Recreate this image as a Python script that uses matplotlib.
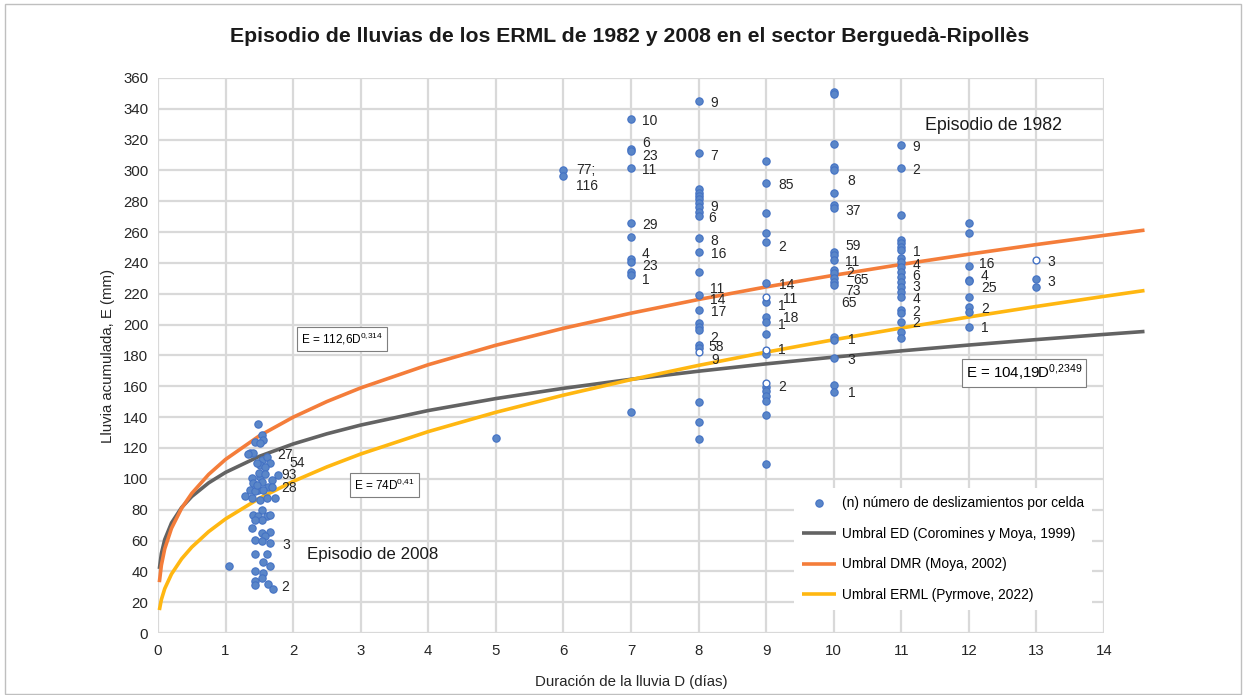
import numpy as np
import matplotlib
matplotlib.use("Agg")
import matplotlib.pyplot as plt
from matplotlib.patches import Rectangle

plt.rcParams["font.family"] = ["Liberation Sans", "DejaVu Sans"]
plt.rcParams["mathtext.default"] = "regular"

# --- data: rainfall duration (days) vs accumulated rain (mm) per cell ---
d_2008 = [1.485, 1.534, 1.436, 1.559, 1.510, 1.362, 1.411, 1.337, 1.534, 1.608,
          1.657, 1.510, 1.584, 1.781, 1.682, 1.510, 1.386, 1.411, 1.534, 1.633,
          1.362, 1.485, 1.559, 1.436, 1.682, 1.288, 1.386, 1.510, 1.608, 1.732,
          1.534, 1.411, 1.485, 1.608, 1.657, 1.534, 1.436, 1.386, 1.534, 1.657,
          1.584, 1.436, 1.534, 1.657, 1.436, 1.608, 1.559, 1.657, 1.436, 1.559,
          1.534, 1.436, 1.633, 1.436, 1.697, 1.055, 1.460, 1.490, 1.590, 1.470]
e_2008 = [135.6, 128.4, 124.1, 125.2, 123.0, 117.0, 116.5, 116.1, 112.2, 114.4,
          110.1, 109.0, 107.9, 102.5, 99.3, 101.4, 100.4, 97.2, 98.2, 95.0,
          92.9, 92.9, 92.9, 91.8, 95.0, 89.0, 87.4, 86.4, 87.4, 87.4,
          79.9, 76.7, 75.6, 75.6, 76.7, 73.5, 73.5, 68.1, 64.8, 65.2,
          62.6, 60.5, 59.4, 58.4, 51.5, 51.5, 45.8, 43.2, 39.9, 38.9,
          35.6, 33.5, 32.0, 31.4, 28.6, 43.7, 110.0, 104.0, 103.0, 96.0]

e_d5 = [126.5]
e_d6 = [300.3, 296.4]
e_d7 = [333.4, 313.7, 312.6, 301.4, 265.7, 257.1, 242.6, 240.8, 234.4, 232.2, 143.4]
e_d8 = [345.3, 311.2, 287.8, 285.6, 283.5, 281.3, 278.7, 276.5, 273.3, 270.5,
        256.0, 246.9, 234.4, 219.2, 209.5, 200.9, 198.7, 196.5, 186.8, 184.7,
        150.0, 137.1, 125.6]
e_d9 = [306.4, 291.7, 272.2, 259.7, 253.9, 226.8, 214.9, 205.2, 201.9, 193.7,
        181.0, 159.4, 157.2, 153.7, 150.7, 141.4, 109.6]
e_d10 = [351.1, 349.6, 317.2, 302.5, 300.3, 285.6, 277.6, 275.5, 247.3, 245.2,
         241.9, 235.5, 233.7, 230.1, 227.9, 225.7, 192.2, 190.1, 178.2, 160.9, 156.5]
e_d11 = [316.5, 301.4, 271.1, 254.9, 252.8, 250.6, 248.4, 243.0, 240.8, 237.6,
         234.4, 231.1, 227.9, 224.6, 221.4, 218.2, 209.5, 207.4, 201.9, 195.4, 191.1]
e_d12 = [266.2, 259.3, 238.3, 229.0, 228.3, 218.2, 211.7, 208.4, 198.7]
e_d13 = [229.4, 224.2]

# cells drawn with open markers
d_open = [8, 9, 9, 9, 13]
e_open = [182.5, 218.2, 183.6, 162.0, 242.0]

# (n) landslide counts per cell: text, duration, rain
lbl_text = ["27", "54", "93", "28", "3", "2",
            "77;", "116",
            "10", "6", "23", "11", "29", "4", "23", "1",
            "9", "7", "9", "6", "8", "16", "11", "14", "17", "2", "58", "9",
            "85", "2", "14", "11", "1", "18", "1", "1", "2",
            "8", "37", "59", "11", "2", "65", "73", "65", "1", "3", "1",
            "9", "2", "1", "4", "6", "3", "4", "2", "2",
            "16", "4", "25", "2", "1",
            "3", "3"]
lbl_d = [1.76, 1.95, 1.82, 1.82, 1.84, 1.82,
         6.19, 6.19,
         7.16, 7.16, 7.16, 7.16, 7.16, 7.16, 7.16, 7.16,
         8.17, 8.17, 8.17, 8.14, 8.17, 8.19, 8.17, 8.17, 8.19, 8.17, 8.14, 8.19,
         9.18, 9.18, 9.19, 9.25, 9.18, 9.25, 9.18, 9.18, 9.18,
         10.21, 10.17, 10.17, 10.17, 10.18, 10.29, 10.17, 10.11, 10.21, 10.21, 10.21,
         11.17, 11.17, 11.17, 11.17, 11.17, 11.17, 11.17, 11.17, 11.17,
         12.15, 12.18, 12.18, 12.18, 12.18,
         13.17, 13.17]
lbl_e = [115.5, 110.3, 102.5, 94.1, 57.1, 29.8,
         300.3, 289.9,
         332.1, 317.8, 309.4, 300.3, 264.6, 245.8, 238.0, 229.0,
         343.8, 309.4, 276.3, 269.2, 254.3, 245.8, 223.1, 216.0, 208.2, 191.3, 185.5, 177.1,
         290.6, 250.4, 225.7, 216.6, 212.1, 204.3, 199.8, 183.6, 159.6,
         293.2, 273.7, 251.0, 240.6, 233.5, 229.0, 221.8, 214.0, 190.0, 177.1, 155.7,
         315.2, 300.3, 247.1, 238.7, 231.6, 224.4, 216.6, 208.2, 201.1,
         239.4, 231.6, 223.8, 210.2, 197.8,
         240.6, 227.7]

# thresholds E = a * D^b
thr_names = ["Umbral ED (Coromines y Moya, 1999)",
             "Umbral DMR (Moya, 2002)",
             "Umbral ERML (Pyrmove, 2022)"]
thr_a = [104.19, 112.6, 74.0]
thr_b = [0.2349, 0.314, 0.41]
thr_colors = ["#636363", "#f47d3a", "#ffb711"]
thr_d = [0.02, 0.05, 0.1, 0.2, 0.35, 0.5, 0.75, 1.0, 1.5, 2.0, 2.5, 3.0, 4.0,
         5.0, 6.0, 7.0, 8.0, 9.0, 10.0, 11.0, 12.0, 13.0, 14.0, 14.6]

# --- figure ---
fig = plt.figure(figsize=(12.46, 6.95), dpi=100)
fig.patches.append(Rectangle((0.004, 0.002), 0.992, 0.992, transform=fig.transFigure,
                             fill=False, edgecolor="#bfbfbf", linewidth=1.0))
ax = fig.add_axes([0.1268, 0.0892, 0.7592, 0.7986])

ax.set_xlim(0, 14)
ax.set_ylim(0, 360)
ax.set_xticks(np.arange(0, 15, 1))
ax.set_yticks(np.arange(0, 361, 20))
ax.grid(True, color="#d9d9d9", linewidth=1.6)
ax.set_axisbelow(True)
for s in ax.spines.values():
    s.set_visible(False)
ax.tick_params(length=0, labelsize=10.8, colors="#262626")
ax.tick_params(axis="x", pad=8)
ax.tick_params(axis="y", pad=7)

for name, a, b, c in zip(thr_names, thr_a, thr_b, thr_colors):
    dd = np.array(thr_d)
    ax.plot(dd, a * dd ** b, color=c, linewidth=2.6, label=name,
            solid_capstyle="butt", clip_on=False, zorder=2)

d_all = (d_2008 + [5] * len(e_d5) + [6] * len(e_d6) + [7] * len(e_d7)
         + [8] * len(e_d8) + [9] * len(e_d9) + [10] * len(e_d10)
         + [11] * len(e_d11) + [12] * len(e_d12) + [13] * len(e_d13))
e_all = (e_2008 + e_d5 + e_d6 + e_d7 + e_d8 + e_d9 + e_d10 + e_d11 + e_d12 + e_d13)

ax.scatter(d_all, e_all, s=28, color="#5a86c8", edgecolor="#4472c4", linewidth=0.8,
           zorder=3, label="(n) número de deslizamientos por celda")
ax.scatter(d_open, e_open, s=24, color="white", edgecolor="#4472c4", linewidth=1.0,
           zorder=3)

for t, x, y in zip(lbl_text, lbl_d, lbl_e):
    ax.text(x, y, t, fontsize=10, color="#262626", ha="left", va="center", zorder=4)

# threshold formulas
box = dict(boxstyle="square,pad=0.35", facecolor="white", edgecolor="#7f7f7f", linewidth=0.8)
ax.text(2.12, 190.7, r"E = 112,6D$^{0{,}314}$", fontsize=8.5, ha="left", va="center",
        bbox=box, zorder=5)
ax.text(2.9, 96.0, r"E = 74D$^{0{,}41}$", fontsize=8.5, ha="left", va="center",
        bbox=box, zorder=5)
ax.text(11.96, 168.6, r"E = 104,19D$^{0{,}2349}$", fontsize=10.8, ha="left", va="center",
        bbox=dict(boxstyle="square,pad=0.25", facecolor="white", edgecolor="#7f7f7f",
                  linewidth=0.8), zorder=5)

ax.text(11.35, 329.5, "Episodio de 1982", fontsize=12.8, ha="left", va="center", color="#1a1a1a")
ax.text(2.2, 50.6, "Episodio de 2008", fontsize=12.2, ha="left", va="center", color="#1a1a1a")

handles, labels = ax.get_legend_handles_labels()
order = [3, 0, 1, 2]
leg = ax.legend([handles[i] for i in order], [labels[i] for i in order],
                loc="upper left", bbox_to_anchor=(0.672, 0.262), frameon=True,
                fontsize=9.9, labelspacing=1.22, handlelength=2.5, handletextpad=0.4,
                borderpad=0.6, borderaxespad=0)
leg.get_frame().set_edgecolor("none")
leg.get_frame().set_facecolor("white")
leg.get_frame().set_alpha(1)
leg.set_zorder(6)

ax.set_xlabel("Duración de la lluvia D (días)", fontsize=10.8, color="#262626", labelpad=12)
ax.set_ylabel("Lluvia acumulada, E (mm)", fontsize=10.8, color="#262626", labelpad=6)
fig.text(0.505, 0.948, "Episodio de lluvias de los ERML de 1982 y 2008 en el sector Berguedà-Ripollès",
         fontsize=15.3, fontweight="bold", ha="center", va="center", color="#1a1a1a")

fig.savefig("out.png", dpi=100)
